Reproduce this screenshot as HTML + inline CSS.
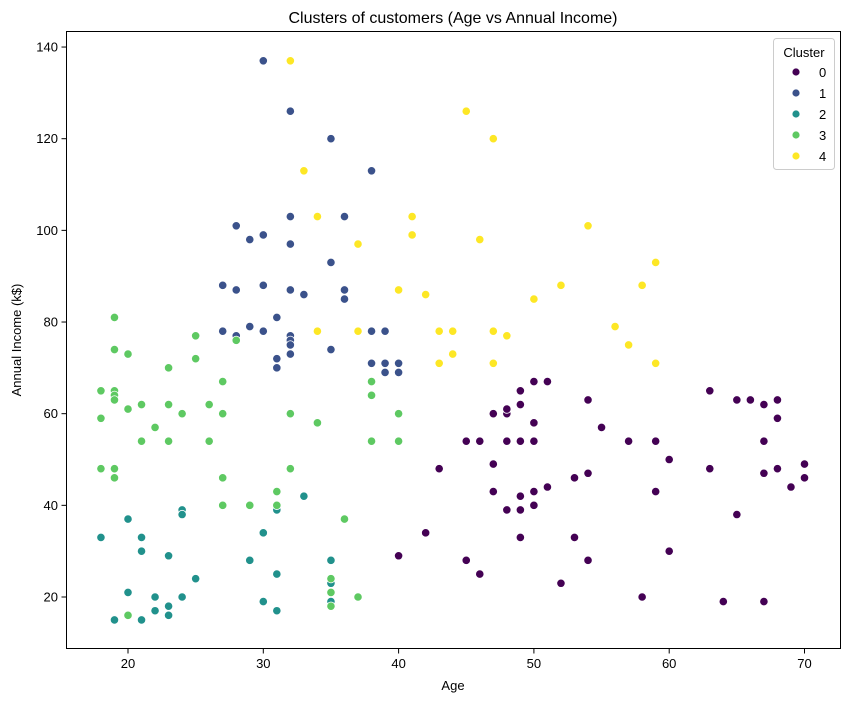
<!DOCTYPE html>
<html><head><meta charset="utf-8"><style>
body{margin:0;background:#fff;}
svg text{font-family:"Liberation Sans","DejaVu Sans",sans-serif;fill:#000;}
</style></head><body>
<svg id="chart" width="850" height="701" xmlns="http://www.w3.org/2000/svg">
<rect width="850" height="701" fill="#fff"/>
<text x="453" y="23" text-anchor="middle" font-size="16">Clusters of customers (Age vs Annual Income)</text>
<g id="marks"></g>
<g id="axes"></g>
<rect x="66.5" y="31.5" width="774" height="617" fill="none" stroke="#000" stroke-width="1"/>
<text x="453" y="690" text-anchor="middle" font-size="13">Age</text>
<text transform="translate(21,340) rotate(-90)" text-anchor="middle" font-size="13">Annual Income (k$)</text>
<g id="legend"></g>
</svg>
<script>
const colors=["#440154","#3b528b","#21918c","#5ec962","#fde725"];
const clusterLabels=["0","1","2","3","4"];
const xTicks=[20,30,40,50,60,70];
const yTicks=[20,40,60,80,100,120,140];
const c0Age=[40,42,43,45,45,46,46,47,47,47,48,48,48,48,49,49,49,49,49,49,50,50,50,50,50,51,51,52,53,53,54,54,54,55,57,58,59,59,60,60,63,63,64,65,65,66,67,67,67,67,68,68,68,69,70,70];
const c0Inc=[29,34,48,54,28,25,54,60,49,43,39,54,60,61,65,62,54,42,39,33,67,58,54,43,40,67,44,23,46,33,63,47,28,57,54,20,54,43,50,30,65,48,19,63,38,63,62,54,47,19,63,59,48,44,49,46];
const c1Age=[30,32,35,38,28,32,36,29,30,32,35,27,28,30,32,36,33,36,29,31,27,28,30,32,32,32,31,31,32,35,38,39,38,39,40,39,40];
const c1Inc=[137,126,120,113,101,103,103,98,99,97,93,88,87,88,87,87,86,85,79,81,78,77,78,77,76,75,72,70,73,74,78,78,71,71,71,69,69];
const c2Age=[18,19,20,20,21,21,21,22,22,23,23,23,24,24,24,25,29,30,30,31,31,31,33,35,35,35];
const c2Inc=[33,15,37,21,33,30,15,20,17,29,18,16,39,38,20,24,28,34,19,39,25,17,42,28,23,19];
const c3Age=[18,18,18,19,19,19,19,19,19,19,20,20,20,21,21,22,23,23,23,24,25,25,26,26,27,27,27,27,28,29,31,31,32,32,34,35,35,35,36,37,38,38,38,40,40];
const c3Inc=[65,59,48,81,74,65,64,63,48,46,73,61,16,62,54,57,70,62,54,60,77,72,62,54,67,60,46,40,76,40,43,40,60,48,58,24,21,18,37,20,67,64,54,60,54];
const c4Age=[32,45,47,33,34,41,37,41,46,54,59,40,42,52,58,50,56,34,37,43,44,47,48,57,44,43,47,59];
const c4Inc=[137,126,120,113,103,103,97,99,98,101,93,87,86,88,88,85,79,78,78,78,78,78,77,75,73,71,71,71];
const ages=[c0Age,c1Age,c2Age,c3Age,c4Age];
const incs=[c0Inc,c1Inc,c2Inc,c3Inc,c4Inc];
const NS="http://www.w3.org/2000/svg";
function xs(v){return 128+(v-20)*13.53;}
function ys(v){return 597-(v-20)*4.583;}
function mk(t,a,p){const e=document.createElementNS(NS,t);for(const k in a)e.setAttribute(k,a[k]);p.appendChild(e);return e;}
const marks=document.getElementById('marks');
for(let c=0;c<5;c++){for(let i=0;i<ages[c].length;i++){
 const e=mk('circle',{cx:xs(ages[c][i]),cy:ys(incs[c][i]),r:4.2,fill:colors[c],stroke:'#fff','stroke-width':0.8},marks);
 
 
}}
const axes=document.getElementById('axes');
xTicks.forEach(v=>{
 const l=mk('line',{x1:xs(v),x2:xs(v),y1:648.5,y2:653.5,stroke:'#000'},axes);
 
 
 const t=mk('text',{x:xs(v),y:668,'text-anchor':'middle','font-size':13},axes);t.textContent=v;
 
 
});
yTicks.forEach(v=>{
 const l=mk('line',{x1:61.5,x2:66.5,y1:ys(v),y2:ys(v),stroke:'#000'},axes);
 
 
 const t=mk('text',{x:58,y:ys(v)+4.5,'text-anchor':'end','font-size':13},axes);t.textContent=v;
 
 
});
const lg=document.getElementById('legend');
mk('rect',{x:773.5,y:38.5,width:61,height:131,rx:3,fill:'#fff','fill-opacity':0.8,stroke:'#ccc'},lg);
const lt=mk('text',{x:804,y:57,'text-anchor':'middle','font-size':13},lg);lt.textContent='Cluster';
clusterLabels.forEach((s,i)=>{
 const y=72+i*21;
 const c=mk('circle',{cx:796,cy:y,r:4,fill:colors[i],stroke:'#fff','stroke-width':0.8},lg);
 
 
 const t=mk('text',{x:819,y:y+5,'text-anchor':'start','font-size':13},lg);t.textContent=s;
 
 
});
</script>
</body></html>
